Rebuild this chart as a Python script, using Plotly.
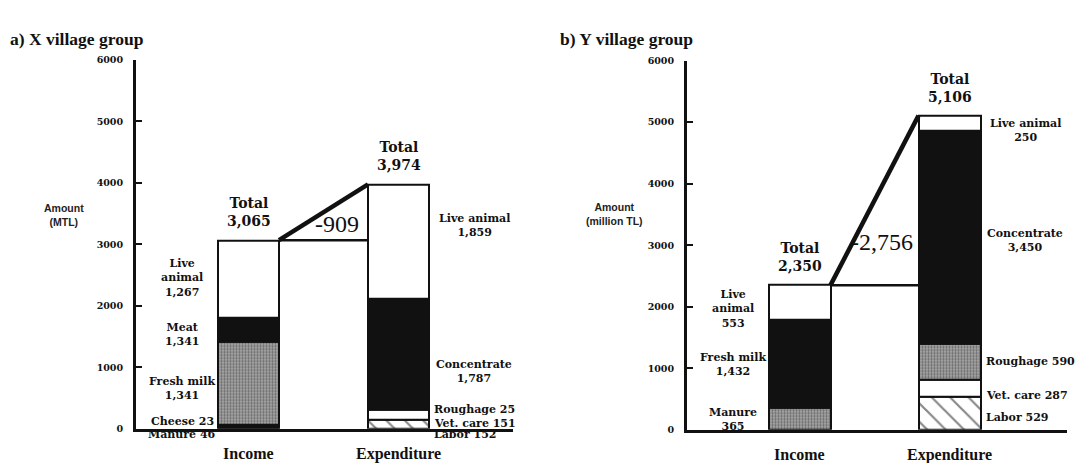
import plotly.graph_objects as go

# ---- data -------------------------------------------------------------
# a) X village group (MTL)
x_income_items = ["Manure", "Cheese", "Fresh milk", "Meat", "Live animal"]
x_income_vals = [46, 23, 1341, 388, 1267]
x_income_text = ["Manure 46", "Cheese 23", "Fresh milk<br>1,341", "Meat<br>1,341", "Live<br>animal<br>1,267"]

x_exp_items = ["Labor", "Vet. care", "Roughage", "Concentrate", "Live animal"]
x_exp_vals = [152, 151, 25, 1787, 1859]
x_exp_text = ["Labor 152", "Vet. care 151", "Roughage 25", "Concentrate<br>1,787", "Live animal<br>1,859"]

# b) Y village group (million TL)
y_income_items = ["Manure", "Fresh milk", "Live animal"]
y_income_vals = [365, 1432, 553]
y_income_text = ["Manure<br>365", "Fresh milk<br>1,432", "Live<br>animal<br>553"]

y_exp_items = ["Labor", "Vet. care", "Roughage", "Concentrate", "Live animal"]
y_exp_vals = [529, 287, 590, 3450, 250]
y_exp_text = ["Labor 529", "Vet. care 287", "Roughage 590", "Concentrate<br>3,450", "Live animal<br>250"]

y_ticks = [0, 1000, 2000, 3000, 4000, 5000, 6000]
group_labels = ["Income", "Expenditure"]

# ---- styles -----------------------------------------------------------
SERIF = "Liberation Serif"
WIDE = "DejaVu Serif"
INK = "#111111"
STIPPLE = dict(color="#a2a2a2", pattern=dict(shape=".", fgcolor="#2e2e2e", bgcolor="#a8a8a8", size=3, solidity=0.45))
BLACK = dict(color=INK)
WHITE = dict(color="white")
HATCH = dict(color="white", pattern=dict(shape="\\", fgcolor=INK, bgcolor="white", size=13, solidity=0.17))

x_income_style = [BLACK, BLACK, STIPPLE, BLACK, WHITE]
x_exp_style = [HATCH, WHITE, STIPPLE, BLACK, WHITE]
y_income_style = [STIPPLE, BLACK, WHITE]
y_exp_style = [HATCH, WHITE, STIPPLE, BLACK, WHITE]

INC_X, EXP_X = 112.5, 262.5   # bar centres in axis units

SEG_FONT = dict(family=WIDE, size=11, color=INK, weight="bold")

fig = go.Figure()


def add_stack(center, width, vals, styles, xa, ya):
    base = 0
    for v, st in zip(vals, styles):
        marker = dict(st)
        marker["line"] = dict(color=INK, width=2)
        fig.add_trace(go.Bar(x=[center], y=[v], base=[base], width=[width],
                             marker=marker, xaxis=xa, yaxis=ya,
                             showlegend=False, hoverinfo="skip"))
        base += v
    return base


def seg_mids(vals):
    mids, b = [], 0
    for v in vals:
        mids.append(b + v / 2)
        b += v
    return mids


panels = [
    dict(xa="x", ya="y", w=61, inc=(x_income_vals, x_income_style, x_income_text),
         exp=(x_exp_vals, x_exp_style, x_exp_text),
         inc_shift=[-7, 4, -5, -4, 1], exp_shift=[-10, -9, 0, -18, 16],
         diff_pos=(201, 3333)),
    dict(xa="x2", ya="y2", w=62, inc=(y_income_vals, y_income_style, y_income_text),
         exp=(y_exp_vals, y_exp_style, y_exp_text),
         inc_shift=[-1, -1, -7], exp_shift=[-4, -7, 0, -3, -7],
         diff_pos=(195, 3048)),
]

annotations = []
shapes = []
for p in panels:
    xa, ya, w = p["xa"], p["ya"], p["w"]
    inc_total = add_stack(INC_X, w, p["inc"][0], p["inc"][1], xa, ya)
    exp_total = add_stack(EXP_X, w, p["exp"][0], p["exp"][1], xa, ya)
    inc_right, exp_left = INC_X + w / 2, EXP_X - w / 2

    # bridge between the two bars
    shapes.append(dict(type="line", xref=xa, yref=ya, x0=inc_right, x1=exp_left,
                       y0=inc_total, y1=inc_total, line=dict(color=INK, width=2.5)))
    shapes.append(dict(type="line", xref=xa, yref=ya, x0=inc_right, x1=exp_left,
                       y0=inc_total, y1=exp_total, line=dict(color=INK, width=4.5)))

    diff = inc_total - exp_total
    annotations.append(dict(xref=xa, yref=ya, x=p["diff_pos"][0], y=p["diff_pos"][1],
                            text=f"-{abs(diff):,}", showarrow=False,
                            font=dict(family=SERIF, size=24, color=INK)))

    # totals
    for cx, tot in ((INC_X, inc_total), (EXP_X, exp_total)):
        annotations.append(dict(xref=xa, yref=ya, x=cx, y=tot, yanchor="bottom", yshift=9,
                                text=f"Total<br>{tot:,}", showarrow=False,
                                font=dict(family=WIDE, size=14, color=INK, weight="bold")))

    # income segment labels (left of the bar)
    for m, t, s in zip(seg_mids(p["inc"][0]), p["inc"][2], p["inc_shift"]):
        annotations.append(dict(xref=xa, yref=ya, x=46, y=m, yshift=s, text=t, showarrow=False,
                                font=SEG_FONT))

    # expenditure segment labels (right of the bar)
    for i, (m, t, s) in enumerate(zip(seg_mids(p["exp"][0]), p["exp"][2], p["exp_shift"])):
        if i < 3:
            annotations.append(dict(xref=xa, yref=ya, x=EXP_X + w / 2 + 3, y=m, yshift=s,
                                    xanchor="left", text=t, showarrow=False, font=SEG_FONT))
        else:
            annotations.append(dict(xref=xa, yref=ya, x=338, y=m, yshift=s, text=t,
                                    showarrow=False, font=SEG_FONT))

    for cx, lab in zip((INC_X, EXP_X), group_labels):
        annotations.append(dict(xref=xa, yref=ya, x=cx, y=0, yshift=-25, text=lab, showarrow=False,
                                font=dict(family=SERIF, size=16, color=INK, weight="bold")))

# panel titles and axis titles
W, H = 1078, 463
annotations += [
    dict(xref="paper", yref="paper", x=8 / W, y=1 - 22 / H, xanchor="left", text="a) X village group",
         showarrow=False, font=dict(family=SERIF, size=17.5, color=INK, weight="bold")),
    dict(xref="paper", yref="paper", x=558 / W, y=1 - 22 / H, xanchor="left", text="b) Y village group",
         showarrow=False, font=dict(family=SERIF, size=17.5, color=INK, weight="bold")),
    dict(xref="paper", yref="paper", x=64 / W, y=1 - 214 / H, xanchor="center",
         text="Amount<br>(MTL)",
         showarrow=False, font=dict(family="Liberation Sans", size=10.5, color="#222222", weight="bold")),
    dict(xref="paper", yref="paper", x=614 / W, y=1 - 213 / H, xanchor="center",
         text="Amount<br>(million TL)",
         showarrow=False, font=dict(family="Liberation Sans", size=10.5, color="#222222", weight="bold")),
]

yaxis_common = dict(range=[0, 6000], tickvals=y_ticks, ticktext=[str(t) for t in y_ticks],
                    showgrid=False, zeroline=False, showline=True, linecolor=INK, linewidth=3,
                    ticks="inside", ticklen=6, tickwidth=2, tickcolor=INK,
                    ticklabelstandoff=8,
                    tickfont=dict(family=WIDE, size=9.5, color=INK, weight="bold"))
xaxis_common = dict(showgrid=False, zeroline=False, showline=True, linecolor=INK, linewidth=2.5,
                    showticklabels=False, ticks="")

fig.update_layout(
    width=W, height=H, autosize=False,
    margin=dict(l=0, r=0, t=0, b=0),
    paper_bgcolor="white", plot_bgcolor="rgba(0,0,0,0)",
    barmode="overlay", bargap=0,
    xaxis=dict(xaxis_common, domain=[136 / W, 513 / W], range=[0, 377], anchor="y"),
    yaxis=dict(yaxis_common, domain=[1 - 433 / H, 1 - 55 / H], anchor="x"),
    xaxis2=dict(xaxis_common, domain=[687 / W, 1067 / W], range=[0, 380], anchor="y2"),
    yaxis2=dict(yaxis_common, domain=[1 - 434 / H, 1 - 56 / H], anchor="x2"),
    annotations=annotations,
    shapes=shapes,
)

fig.write_html("out.html")
